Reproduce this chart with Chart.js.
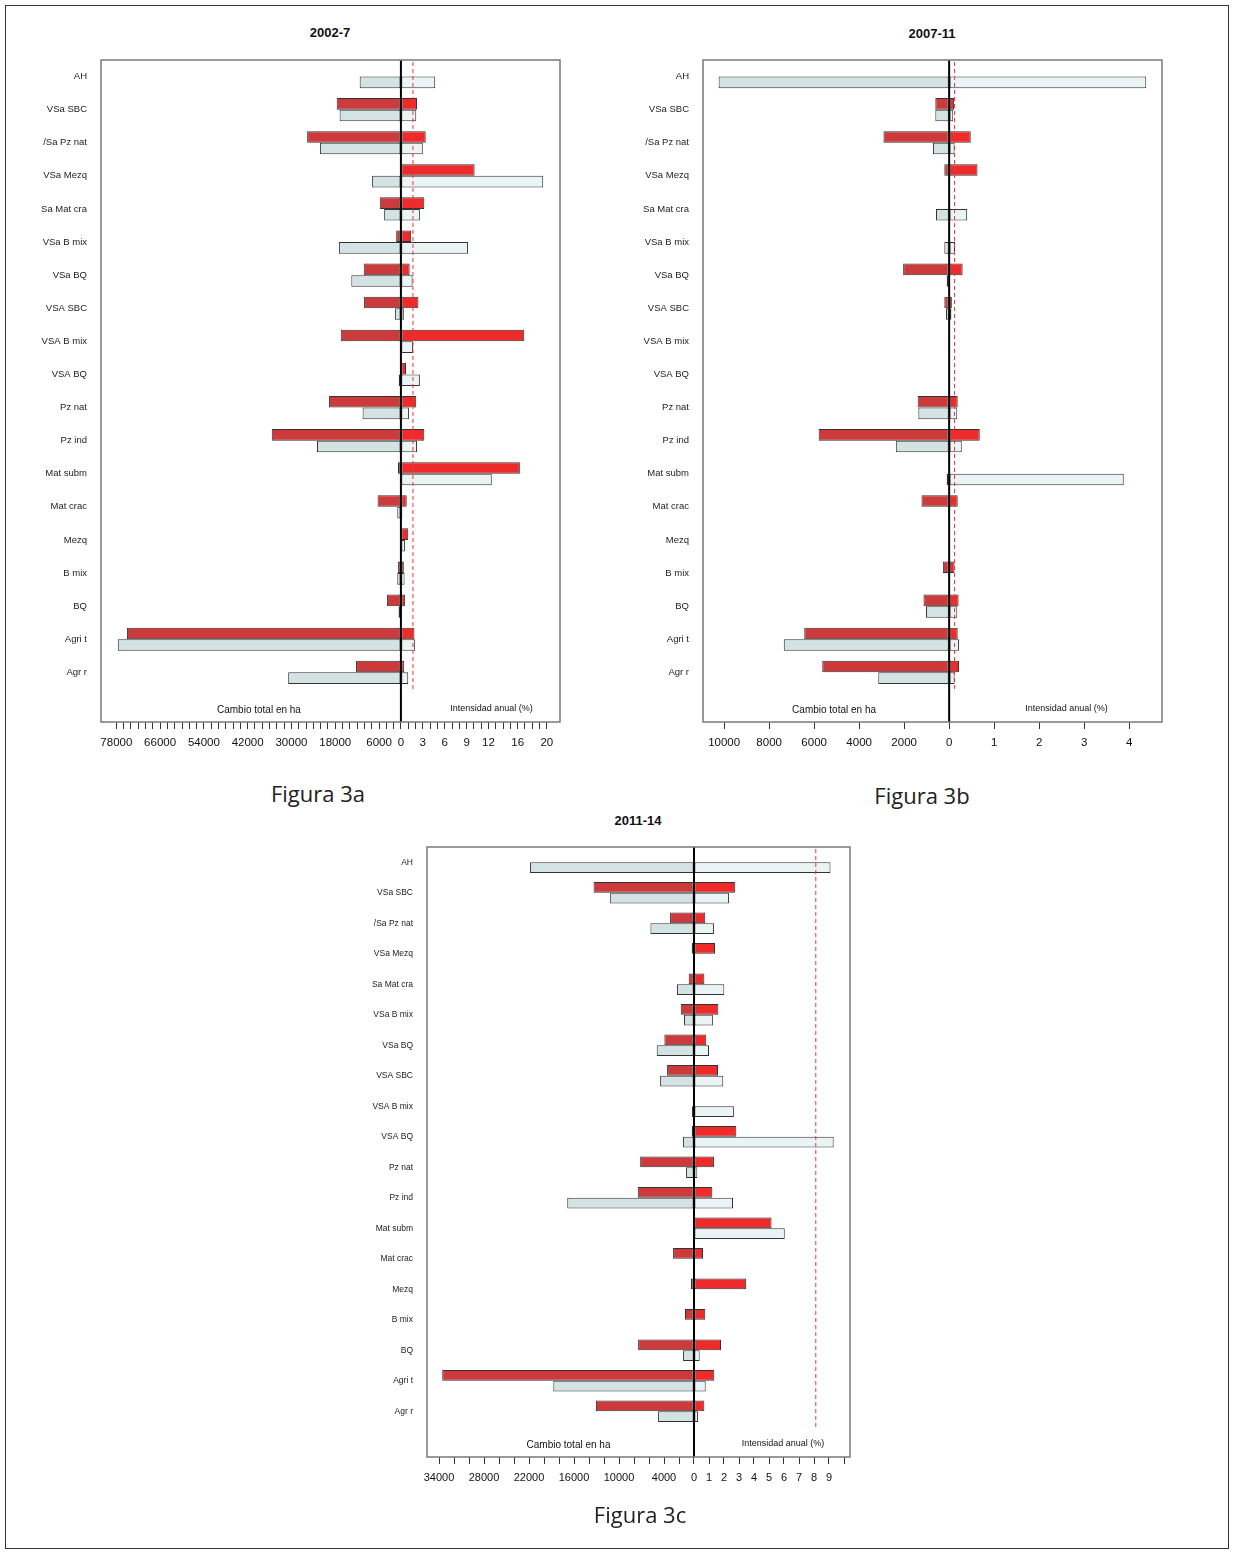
<!DOCTYPE html>
<html>
<head>
<meta charset="utf-8">
<script src="https://cdn.jsdelivr.net/npm/chart.js@4/dist/chart.umd.min.js"></script>
<style>
body{margin:0;background:#fff;font-family:"Liberation Sans",Arial,sans-serif;}
#page{position:relative;width:1235px;height:1555px;}
#frame{position:absolute;left:5px;top:5px;width:1222px;height:1542px;border:1.5px solid #333;}
.panel{position:absolute;}
.panel canvas{display:block;}
.ttl{position:absolute;font-weight:bold;font-size:13px;color:#111;transform:translate(-50%,-50%);white-space:nowrap;}
.cap{position:absolute;font-family:"Open Sans",sans-serif;font-size:22px;color:#222;transform:translate(-50%,-50%);white-space:nowrap;}
</style>
</head>
<body>
<div id="page">
  <div id="frame"></div>
  <div class="ttl" style="left:330px;top:32px">2002-7</div>
  <div class="ttl" style="left:932px;top:33px">2007-11</div>
  <div class="ttl" style="left:638px;top:820px">2011-14</div>
  <div class="panel" style="left:20px;top:50px"><canvas id="chartA" width="560" height="720"></canvas></div>
  <div class="panel" style="left:620px;top:50px"><canvas id="chartB" width="560" height="720"></canvas></div>
  <div class="panel" style="left:340px;top:835px"><canvas id="chartC" width="530" height="670"></canvas></div>
  <div class="cap" style="left:318px;top:793px">Figura 3a</div>
  <div class="cap" style="left:922px;top:795px">Figura 3b</div>
  <div class="cap" style="left:640px;top:1514px">Figura 3c</div>
</div>
<script>
// categorias (de arriba a abajo)
const categories = ['AH','VSa SBC','/Sa Pz nat','VSa Mezq','Sa Mat cra','VSa B mix','VSa BQ','VSA SBC','VSA B mix','VSA BQ',
  'Pz nat','Pz ind','Mat subm','Mat crac','Mezq','B mix','BQ','Agri t','Agr r'];

// 2002-7 : perdidas (rojo) y ganancias (claro), en ha y en % anual
const lossHaA  = [0,17600,25700,0,5800,1300,10200,10100,16500,0,19700,35400,800,6400,0,850,3800,75100,12300];
const lossPctA = [0,2.2,3.4,10.1,3.2,1.4,1.2,2.4,16.9,0.7,2.1,3.2,16.3,0.8,1.0,0.4,0.55,1.85,0.45];
const gainHaA  = [11300,16800,22200,7900,4600,17000,13600,1600,200,600,10500,23000,200,1000,0,1000,650,77600,30900];
const gainPctA = [4.7,2.1,3.0,19.5,2.6,9.2,1.6,0.4,1.65,2.6,1.1,2.2,12.45,0.2,0.55,0.5,0.1,1.95,1.0];
const uniformA = 1.65;

// 2007-11
const lossHaB  = [0,615,2920,215,0,0,2045,215,0,0,1400,5800,0,1230,0,280,1140,6440,5640];
const lossPctB = [0,0.11,0.48,0.63,0,0,0.3,0.06,0,0,0.19,0.68,0,0.19,0,0.12,0.21,0.19,0.22];
const gainHaB  = [10245,615,720,0,585,215,110,140,0,0,1370,2370,110,50,0,0,1030,7350,3150];
const gainPctB = [4.38,0.09,0.12,0,0.4,0.13,0.02,0.05,0,0,0.18,0.28,3.88,0.01,0,0,0.18,0.22,0.12];
const uniformB = 0.12;

// 2011-14
const lossHaC  = [0,13390,3190,310,710,1770,3950,3590,0,310,7180,7500,90,2790,400,1200,7450,33570,13080];
const lossPctC = [0,2.75,0.75,1.4,0.69,1.62,0.82,1.6,0,2.82,1.33,1.22,5.17,0.6,3.48,0.75,1.8,1.35,0.69];
const gainHaC  = [21860,11180,5810,0,2260,1330,4970,4520,270,1460,1060,16900,90,0,0,0,1460,18760,4790];
const gainPctC = [9.1,2.33,1.33,0,2.02,1.26,1.0,1.95,2.66,9.31,0.22,2.6,6.05,0,0,0,0.38,0.78,0.27];
const uniformC = 8.12;

// etiquetas del eje
const haLabelsA = [78000,66000,54000,42000,30000,18000,6000,0];
const pctLabelsA = [3,6,9,12,16,20];
const haLabelsB = [10000,8000,6000,4000,2000,0];
const pctLabelsB = [1,2,3,4];
const haLabelsC = [34000,28000,22000,16000,10000,4000,0];
const pctLabelsC = [1,2,3,4,5,6,7,8,9];

const HA_UNIT = 2000; // ha equivalentes a 1 % en el eje comun

const decor = {
  id: 'decor',
  afterDatasetsDraw(chart, args, opts) {
    const ctx = chart.ctx, a = chart.chartArea, x = chart.scales.x, y = chart.scales.y;
    const x0 = x.getPixelForValue(0);
    const band = y.getPixelForValue(1) - y.getPixelForValue(0);
    ctx.save();
    // linea de intensidad uniforme
    const xu = x.getPixelForValue(opts.uniform);
    ctx.strokeStyle = '#e8383a';
    ctx.lineWidth = 1;
    ctx.setLineDash([4, 3]);
    ctx.beginPath();
    ctx.moveTo(xu, a.top + 2);
    ctx.lineTo(xu, y.getPixelForValue(categories.length - 1) + band * 0.6);
    ctx.stroke();
    ctx.setLineDash([]);
    // eje cero
    ctx.strokeStyle = '#000';
    ctx.lineWidth = 2;
    ctx.beginPath();
    ctx.moveTo(x0, a.top);
    ctx.lineTo(x0, a.bottom);
    ctx.stroke();
    // caja
    ctx.strokeStyle = '#7a7a7a';
    ctx.lineWidth = 1.5;
    ctx.strokeRect(a.left, a.top, a.right - a.left, a.bottom - a.top);
    // textos
    ctx.fillStyle = '#111';
    ctx.textAlign = 'center';
    ctx.textBaseline = 'middle';
    ctx.font = '10px "Liberation Sans", Arial, sans-serif';
    ctx.fillText('Cambio total en ha', (a.left + x0) / 2 + 8, a.bottom - 12);
    ctx.font = '9px "Liberation Sans", Arial, sans-serif';
    ctx.fillText('Intensidad anual (%)', (x0 + a.right) / 2 + 11, a.bottom - 13);
    ctx.restore();
  }
};

function makePanel(id, d) {
  // marcas del eje: cada paso en ha a la izquierda, cada paso en % a la derecha
  const tickVals = [];
  for (let v = d.haMax; v > 0; v -= d.haStep) tickVals.push(-v / HA_UNIT);
  tickVals.push(0);
  for (let v = d.pctStep; v <= d.pctMax + 1e-9; v += d.pctStep) tickVals.push(+v.toFixed(3));
  const labelMap = {};
  d.haLabels.forEach(v => { labelMap[(-v / HA_UNIT).toFixed(3)] = String(v); });
  d.pctLabels.forEach(v => { labelMap[(+v).toFixed(3)] = String(v); });

  const ds = (data, stack, color) => ({
    data: data, stack: stack, backgroundColor: color,
    borderColor: '#333', borderWidth: 1, borderSkipped: false,
    categoryPercentage: 0.7, barPercentage: 1.0
  });

  new Chart(document.getElementById(id), {
    type: 'bar',
    data: {
      labels: categories.concat(['']),
      datasets: [
        ds(d.lossHa.map(v => -v / HA_UNIT), 'loss', '#cc3a3c'),
        ds(d.lossPct, 'loss', '#ee2a2a'),
        ds(d.gainHa.map(v => -v / HA_UNIT), 'gain', '#d3e2e3'),
        ds(d.gainPct, 'gain', '#eaf4f5')
      ]
    },
    options: {
      indexAxis: 'y',
      responsive: false,
      animation: false,
      events: [],
      layout: { padding: { left: 0, right: d.padRight, top: d.padTop, bottom: 8 } },
      plugins: {
        legend: { display: false },
        tooltip: { enabled: false },
        decor: { uniform: d.uniform }
      },
      scales: {
        x: {
          type: 'linear',
          stacked: true,
          min: d.min,
          max: d.max,
          afterBuildTicks: s => { s.ticks = tickVals.map(v => ({ value: v })); },
          afterFit: s => { s.height = 40; s.paddingLeft = 0; s.paddingRight = 0; },
          border: { display: false },
          grid: { drawOnChartArea: false, drawTicks: true, tickLength: 7, color: '#333', lineWidth: 1 },
          ticks: {
            autoSkip: false, maxRotation: 0, padding: 7, color: '#111',
            font: { size: d.tickFont, family: '"Liberation Sans", Arial, sans-serif' },
            callback: v => labelMap[(+v).toFixed(3)] || ''
          }
        },
        y: {
          type: 'category',
          afterFit: s => { s.width = d.yWidth; s.paddingTop = 0; s.paddingBottom = 0; },
          border: { display: false },
          grid: { display: false, drawTicks: false },
          ticks: {
            autoSkip: false, padding: 14, color: '#222',
            font: { size: d.catFont, family: '"Liberation Sans", Arial, sans-serif' }
          }
        }
      }
    },
    plugins: [decor]
  });
}

makePanel('chartA', {
  lossHa: lossHaA, lossPct: lossPctA, gainHa: gainHaA, gainPct: gainPctA, uniform: uniformA,
  haLabels: haLabelsA, pctLabels: pctLabelsA, haMax: 78000, haStep: 2000, pctMax: 20, pctStep: 1,
  min: -41.1, max: 21.8, yWidth: 81, padRight: 20, padTop: 10, tickFont: 11.5, catFont: 9.5
});
makePanel('chartB', {
  lossHa: lossHaB, lossPct: lossPctB, gainHa: gainHaB, gainPct: gainPctB, uniform: uniformB,
  haLabels: haLabelsB, pctLabels: pctLabelsB, haMax: 10000, haStep: 2000, pctMax: 4, pctStep: 1,
  min: -5.47, max: 4.73, yWidth: 83, padRight: 18, padTop: 10, tickFont: 11.5, catFont: 9.5
});
makePanel('chartC', {
  lossHa: lossHaC, lossPct: lossPctC, gainHa: gainHaC, gainPct: gainPctC, uniform: uniformC,
  haLabels: haLabelsC, pctLabels: pctLabelsC, haMax: 34000, haStep: 2000, pctMax: 10, pctStep: 1,
  min: -17.8, max: 10.4, yWidth: 87, padRight: 20, padTop: 12, tickFont: 11, catFont: 8.5
});
</script>
</body>
</html>
